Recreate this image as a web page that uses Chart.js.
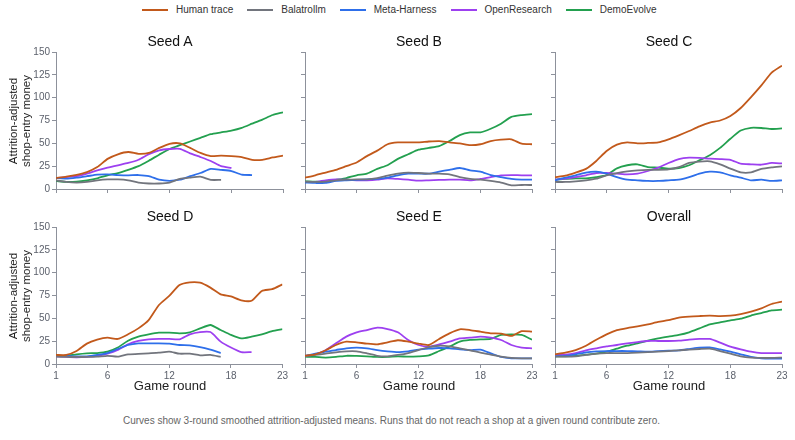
<!DOCTYPE html>
<html>
<head>
<meta charset="utf-8">
<script src="https://cdn.jsdelivr.net/npm/chart.js@4.4.1/dist/chart.umd.min.js"></script>
<style>
  body { margin: 0; background: #fff; font-family: "Liberation Sans", Arial, Helvetica, sans-serif; }
  #page { position: relative; width: 795px; height: 440px; overflow: hidden; }
  canvas { position: absolute; }
  .legend { position: absolute; left: 142px; top: 4px; display: flex; align-items: center; font-size: 10px; color: #333; }
  .legend .item { display: flex; align-items: center; margin-right: 14px; }
  .legend .swatch { width: 26px; height: 2px; margin-right: 8px; }
  .title { position: absolute; width: 228px; text-align: center; font-size: 14px; color: #111; line-height: 16px; }
  .xtitle { position: absolute; width: 228px; text-align: center; font-size: 13px; color: #222; line-height: 15px; }
  .ytitle { position: absolute; width: 180px; text-align: center; font-size: 11.5px; color: #222; line-height: 13px; transform: rotate(-90deg); }
  .caption { position: absolute; left: -6px; width: 795px; top: 415px; text-align: center; font-size: 10px; color: #666; }
</style>
</head>
<body>
<div id="page"></div>
<script>
// Chart data
const seriesNames = ['Human trace', 'Balatrollm', 'Meta-Harness', 'OpenResearch', 'DemoEvolve'];
const seriesColors = ['#c2591b', '#72757d', '#2e6fea', '#9d40f0', '#23a04f'];
const panelTitles = ['Seed A', 'Seed B', 'Seed C', 'Seed D', 'Seed E', 'Overall'];
const xTicks = [1, 6, 12, 18, 23];
const yTicks = [0, 25, 50, 75, 100, 125, 150];

const seedAHuman = [12, 13.5, 15.5, 18.5, 24, 33, 38, 40.5, 38.5, 39.5, 45, 49.5, 50, 45, 39.5, 36, 36.5, 36, 35, 32, 32, 34.5, 36.5];
const seedABalatro = [9.5, 7.7, 7, 7.7, 9.5, 10.5, 10.5, 9.5, 7, 6, 6, 7, 11, 12.5, 13.5, 10, 10];
const seedAMeta = [12, 11.3, 12.4, 14, 15.7, 16, 15.3, 15, 15.3, 14.2, 10.2, 9, 10.2, 14, 17.5, 22, 21, 19.7, 15.7, 15.3];
const seedAOpen = [12, 13, 14, 16.8, 20.4, 23.4, 26, 28.5, 32, 38, 42.3, 43.8, 44, 39, 35, 30.7, 25, 23];
const seedADemo = [8.8, 7.7, 8, 9.5, 11.7, 15, 17.5, 21, 25, 31, 37.6, 43.8, 48, 52, 56, 60, 62, 64, 67, 71.5, 76, 81, 84];

const seedBHuman = [12.4, 15, 18, 21, 25, 29, 36, 42, 49, 51, 51, 51, 52, 52.5, 51, 50, 48, 49, 52.5, 54, 54.4, 49.6, 49];
const seedBBalatro = [8, 7.7, 8, 9.5, 10.2, 10.6, 10.6, 12, 14.6, 16.8, 18, 17.5, 16.8, 16.8, 16, 13, 11, 10.2, 8.8, 7, 4, 4.4, 4.4];
const seedBMeta = [7, 6.6, 6.6, 8.8, 9.5, 10, 10.6, 11, 12.4, 15, 16.8, 16.8, 16.8, 19, 21, 23, 20.4, 19, 15.3, 13, 11, 10.2, 10.2];
const seedBOpen = [7.7, 7.7, 9.5, 10.6, 10.2, 9.5, 9.5, 10.2, 11.7, 11, 10.2, 9.1, 9.5, 9.9, 10.2, 10.2, 9.5, 11, 13, 15, 15.3, 15, 15];
const seedBDemo = [8.4, 8, 8, 10, 12, 15, 16.8, 22, 26, 33, 38, 43, 45, 47, 52.5, 59, 62, 62, 66, 71.5, 79, 81, 82];

const seedCHuman = [13, 14.6, 18, 22, 30.7, 41.6, 48.5, 51, 50, 50.4, 51, 54.4, 58.8, 63.5, 68.6, 72.6, 75, 80, 88.7, 100.7, 113.5, 127.4, 135];
const seedCBalatro = [7.7, 7.7, 8.4, 9.5, 11.3, 15, 17.5, 19.3, 20.4, 21, 21, 21.5, 24, 28.5, 30, 30.3, 27, 22.3, 18.2, 18.2, 22, 23.7, 24.8];
const seedCMeta = [9.5, 12.4, 15, 18, 19, 16.8, 13, 10.2, 9.5, 8.8, 8.8, 9.5, 10.2, 13, 16.8, 19, 18.2, 15, 12.4, 9.5, 10.2, 8.8, 9.5];
const seedCOpen = [10.2, 11.3, 13, 15, 17.5, 17.5, 16.8, 16, 16.8, 19.7, 23.4, 28.5, 32.8, 34.3, 34, 33.2, 32.8, 32, 27.7, 27, 26.6, 28.5, 28];
const seedCDemo = [10.2, 11, 11.7, 11.7, 13, 15.3, 22.6, 26, 27, 24, 23.4, 22.3, 23, 26, 31.4, 37, 45, 55, 64, 67, 66.8, 65.7, 66.4];

const seedDHuman = [9.9, 9.9, 14.2, 22.3, 26.6, 28.8, 27.4, 32.5, 39, 48, 64.6, 74.5, 86.5, 89.4, 89, 83.6, 76.3, 74, 69.7, 69.3, 80, 82, 87.2];
const seedDBalatro = [8, 7.7, 7.7, 7.7, 8, 9, 8, 10.6, 11, 11.7, 12.4, 13.5, 11.3, 11.3, 9.5, 9.9, 7.7];
const seedDMeta = [9, 8.8, 8.4, 8.4, 9.9, 12, 16.4, 20.8, 22.6, 22.6, 22.6, 22.3, 20.8, 20.4, 18.6, 15.7, 12];
const seedDOpen = [8.4, 7.7, 7.3, 7.7, 8.8, 11.3, 15.3, 21.5, 25.2, 27, 27.4, 27.4, 27, 32.5, 35, 35, 24.5, 18, 13, 13];
const seedDDemo = [9, 9, 10.6, 11.7, 12, 13.5, 18, 25.5, 30, 32.5, 34.3, 34.3, 33.6, 34.7, 39, 42.7, 37.2, 31.8, 28, 30, 32.5, 36, 38.3];

const seedEHuman = [9, 10.6, 15, 20.8, 24.5, 23.7, 22.3, 21.5, 23.7, 26, 24.5, 22.3, 20.8, 27.4, 33.6, 38, 37.2, 35.4, 33.6, 33.2, 30.7, 36, 35.4];
const seedEBalatro = [8.8, 9.9, 11.3, 12.8, 13.9, 13.9, 11.7, 9, 8.4, 9.9, 12, 15.3, 18.6, 20, 19.3, 17.2, 15, 12.4, 10.2, 8, 6.6, 6.2, 6.2];
const seedEMeta = [8.8, 11.3, 13.5, 15.3, 17.2, 17.9, 17.2, 15.3, 13.9, 13, 13.9, 15.7, 16.8, 17.5, 17.2, 16, 15.3, 15.7, 11.7, 7.7, 6.2, 6.2, 6.2];
const seedEOpen = [8.8, 10.6, 15, 22.6, 30, 34.7, 37.2, 39.8, 38.3, 34.7, 26.3, 20.8, 19, 21.5, 24.5, 28, 28.8, 30, 28.8, 26.3, 20.8, 17.9, 17.2];
const seedEDemo = [8, 7.7, 7, 7.7, 9, 8.8, 8.4, 7.7, 7.7, 8.4, 8, 8.4, 9.5, 14.2, 19, 24.5, 26.3, 27, 27.4, 31.8, 32.5, 31.8, 26.6];

const overallHuman = [10.6, 12.4, 15.3, 20, 26.6, 32.5, 37, 39.4, 41.2, 43.4, 46, 48, 50.7, 51.8, 52.5, 53, 52.5, 53, 54.7, 57.3, 61, 65.7, 68.3];
const overallBalatro = [8, 8, 8.4, 9.9, 11.3, 12, 12, 12, 12.4, 13, 13.5, 14.2, 15, 15.7, 16.4, 16.8, 14.2, 11.3, 8.4, 7, 6.6, 6.6, 7];
const overallMeta = [8.4, 9, 10.6, 12.8, 13.9, 14.2, 14.2, 14.2, 13.9, 13.5, 14.2, 14.6, 15, 16.4, 17.9, 18.2, 16, 13.5, 10.6, 7.7, 6.2, 5.8, 5.8];
const overallOpen = [9.9, 10.2, 12, 15, 17.2, 19.3, 20.8, 22.6, 24, 25.2, 25.2, 25.2, 25.5, 26.6, 27.4, 27.4, 23.4, 19, 16, 13.5, 12, 12, 12];
const overallDemo = [8.4, 8.4, 9, 10.2, 11.3, 13.5, 16.8, 20, 22.6, 25.5, 28, 30, 31.8, 34.7, 39, 43.4, 45.6, 47.8, 49.6, 53, 55.8, 58.8, 59.5];

const panelSeries = [
  [seedAHuman, seedABalatro, seedAMeta, seedAOpen, seedADemo],
  [seedBHuman, seedBBalatro, seedBMeta, seedBOpen, seedBDemo],
  [seedCHuman, seedCBalatro, seedCMeta, seedCOpen, seedCDemo],
  [seedDHuman, seedDBalatro, seedDMeta, seedDOpen, seedDDemo],
  [seedEHuman, seedEBalatro, seedEMeta, seedEOpen, seedEDemo],
  [overallHuman, overallBalatro, overallMeta, overallOpen, overallDemo]
];

const axisColor = '#8d919b';
const tickColor = '#5c616c';
Chart.defaults.font.family = '"Liberation Sans", Arial, Helvetica, sans-serif';

const page = document.getElementById('page');

function addDiv(cls, text, style) {
  const d = document.createElement('div');
  d.className = cls;
  d.innerHTML = text;
  Object.assign(d.style, style);
  page.appendChild(d);
  return d;
}

// Legend
const legend = addDiv('legend', '', {});
seriesNames.forEach((name, i) => {
  legend.innerHTML += `<div class="item"><span class="swatch" style="background:${seriesColors[i]}"></span>${name}</div>`;
});

// Panel geometry: canvas placement per column / row
const colCanvas = [{ left: 0, width: 290, yWidth: 56 }, { left: 290, width: 250, yWidth: 15 }, { left: 540, width: 250, yWidth: 15 }];
const rowCanvas = [{ top: 40, height: 160, xHeight: 11 }, { top: 215, height: 169, xHeight: 20 }];

function makePanel(idx) {
  const col = idx % 3, row = Math.floor(idx / 3);
  const c = colCanvas[col], r = rowCanvas[row];
  const canvas = document.createElement('canvas');
  canvas.width = c.width; canvas.height = r.height;
  canvas.style.left = c.left + 'px'; canvas.style.top = r.top + 'px';
  page.appendChild(canvas);

  const plotLeft = c.left + c.yWidth;
  const plotTop = r.top + 12;
  const plotBottom = r.top + r.height - r.xHeight;

  addDiv('title', panelTitles[idx], { left: plotLeft + 'px', top: (plotTop - 19) + 'px' });
  if (row === 1) addDiv('xtitle', 'Game round', { left: plotLeft + 'px', top: (plotBottom + 14) + 'px' });
  if (col === 0) {
    const mid = (plotTop + plotBottom) / 2;
    addDiv('ytitle', 'Attrition-adjusted<br>shop-entry money', { left: (19.5 - 90) + 'px', top: (mid - 13) + 'px' });
  }

  new Chart(canvas, {
    type: 'line',
    data: {
      datasets: seriesNames.map((name, i) => ({
        label: name,
        data: panelSeries[idx][i].map((v, j) => ({ x: j + 1, y: v })),
        borderColor: seriesColors[i],
        borderWidth: 1.8,
        pointRadius: 0,
        tension: 0.2,
        fill: false
      }))
    },
    options: {
      responsive: false,
      animation: false,
      layout: { padding: { top: 12, right: c.width - c.yWidth - 227, left: 0, bottom: 0 } },
      plugins: { legend: { display: false }, tooltip: { enabled: false } },
      scales: {
        x: {
          type: 'linear', min: 1, max: 23,
          afterBuildTicks: s => { s.ticks = xTicks.map(v => ({ value: v })); },
          afterFit: s => { s.height = r.xHeight; },
          grid: { drawOnChartArea: false, drawTicks: true, tickLength: 4, color: axisColor },
          border: { color: axisColor, width: 1 },
          ticks: { display: row === 1, color: tickColor, font: { size: 10 }, padding: 2, maxRotation: 0, autoSkip: false }
        },
        y: {
          min: 0, max: 150,
          afterBuildTicks: s => { s.ticks = yTicks.map(v => ({ value: v })); },
          afterFit: s => { s.width = c.yWidth; },
          grid: { drawOnChartArea: false, drawTicks: true, tickLength: 4, color: axisColor },
          border: { color: axisColor, width: 1 },
          ticks: { display: col === 0, color: tickColor, font: { size: 10 }, padding: 2 }
        }
      }
    }
  });
}

for (let i = 0; i < 6; i++) makePanel(i);

addDiv('caption', 'Curves show 3-round smoothed attrition-adjusted means. Runs that do not reach a shop at a given round contribute zero.', {});
</script>
</body>
</html>
